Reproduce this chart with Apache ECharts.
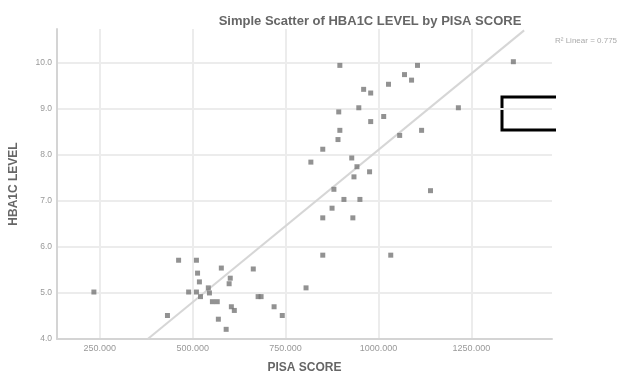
<!DOCTYPE html>
<html>
<head>
<meta charset="utf-8">
<script src="https://cdn.jsdelivr.net/npm/echarts@6/dist/echarts.min.js"></script>
<style>
  html, body { margin: 0; padding: 0; background: #fff; }
  #chart { width: 622px; height: 379px; }
</style>
</head>
<body>
<div id="chart"></div>
<script>
// PISA SCORE (x) and HBA1C LEVEL (y)
const pisaScore = [
  234, 432, 462, 510, 513, 518, 489, 510, 521, 542, 545, 553, 566, 577, 601,
  598, 604, 612, 569, 590, 663, 676, 684, 719, 741, 805,
  850, 1033, 850, 931, 875, 907, 950, 880, 1140, 934, 976, 942, 928, 818, 850,
  891, 896, 1057, 1116, 979, 1014, 893, 947, 1215, 960, 979, 1027, 1070, 1089, 896, 1105, 1363
];
const hba1cLevel = [
  5.02, 4.51, 5.71, 5.71, 5.43, 5.24, 5.02, 5.02, 4.92, 5.11, 5.00, 4.81, 4.81, 5.54, 5.32,
  5.20, 4.70, 4.62, 4.43, 4.21, 5.52, 4.92, 4.92, 4.70, 4.51, 5.11,
  5.82, 5.82, 6.63, 6.63, 6.84, 7.03, 7.03, 7.25, 7.22, 7.52, 7.63, 7.74, 7.93, 7.84, 8.12,
  8.33, 8.53, 8.42, 8.53, 8.72, 8.83, 8.93, 9.02, 9.02, 9.42, 9.34, 9.53, 9.74, 9.62, 9.94, 9.94, 10.02
];

// fit line ends
const fitX = [379, 1392];
const fitY = [4.0, 10.7];

const xTicks = [250, 500, 750, 1000, 1250];
const xTickLabels = ["250.000", "500.000", "750.000", "1000.000", "1250.000"];
const yTicks = [4, 5, 6, 7, 8, 9, 10];
const yTickLabels = ["4.0", "5.0", "6.0", "7.0", "8.0", "9.0", "10.0"];

const chart = echarts.init(document.getElementById("chart"));

const points = pisaScore.map((x, i) => [x, hba1cLevel[i]]);
const fitLine = fitX.map((x, i) => [x, fitY[i]]);

const font = "Arial, Liberation Sans";

chart.setOption({
  animation: false,
  backgroundColor: "#fff",
  title: {
    text: "Simple Scatter of HBA1C LEVEL by PISA SCORE",
    left: 365,
    textAlign: "center",
    top: 10,
    textStyle: { fontFamily: font, fontSize: 13, fontWeight: "bold", color: "#666" }
  },
  grid: { left: 55, right: 70, top: 29, bottom: 35 },
  xAxis: {
    type: "value",
    min: 134.7,
    max: 1467,
    name: "PISA SCORE",
    nameLocation: "middle",
    nameGap: 23,
    nameTextStyle: { fontFamily: font, fontSize: 12, fontWeight: "bold", color: "#666" },
    axisLine: { lineStyle: { color: "#d4d4d4", width: 2 } },
    axisTick: { show: false, customValues: xTicks },
    axisLabel: {
      customValues: xTicks,
      fontFamily: font,
      fontSize: 9,
      color: "#999",
      margin: 5,
      formatter: v => xTickLabels[xTicks.indexOf(v)] || ""
    },
    splitLine: { show: true, lineStyle: { color: "#ececec", width: 2 } }
  },
  yAxis: {
    type: "value",
    min: 4,
    max: 10.73,
    name: "HBA1C LEVEL",
    nameLocation: "middle",
    nameGap: 37,
    nameTextStyle: { fontFamily: font, fontSize: 12, fontWeight: "bold", color: "#666" },
    axisLine: { show: true, lineStyle: { color: "#d4d4d4", width: 2 } },
    axisTick: { show: false, customValues: yTicks },
    axisLabel: {
      customValues: yTicks,
      fontFamily: font,
      fontSize: 8.5,
      color: "#999",
      margin: 5,
      formatter: v => yTickLabels[yTicks.indexOf(v)] || ""
    },
    splitLine: { show: true, lineStyle: { color: "#ececec", width: 2 } }
  },
  graphic: [
    {
      type: "text",
      left: 555,
      top: 37,
      style: { text: "R² Linear = 0.775", fontSize: 8, fill: "#aaa", fontFamily: font }
    },
    {
      type: "polyline",
      shape: { points: [[556, 97], [502, 97], [502, 130], [556, 130]] },
      style: { stroke: "#000", lineWidth: 3, fill: null }
    }
  ],
  series: [
    {
      type: "line",
      data: fitLine,
      symbol: "none",
      lineStyle: { color: "#d6d6d6", width: 2 },
      z: 1
    },
    {
      type: "scatter",
      data: points,
      symbol: "rect",
      symbolSize: 5,
      itemStyle: { color: "#777" },
      z: 2
    }
  ]
});
</script>
</body>
</html>
